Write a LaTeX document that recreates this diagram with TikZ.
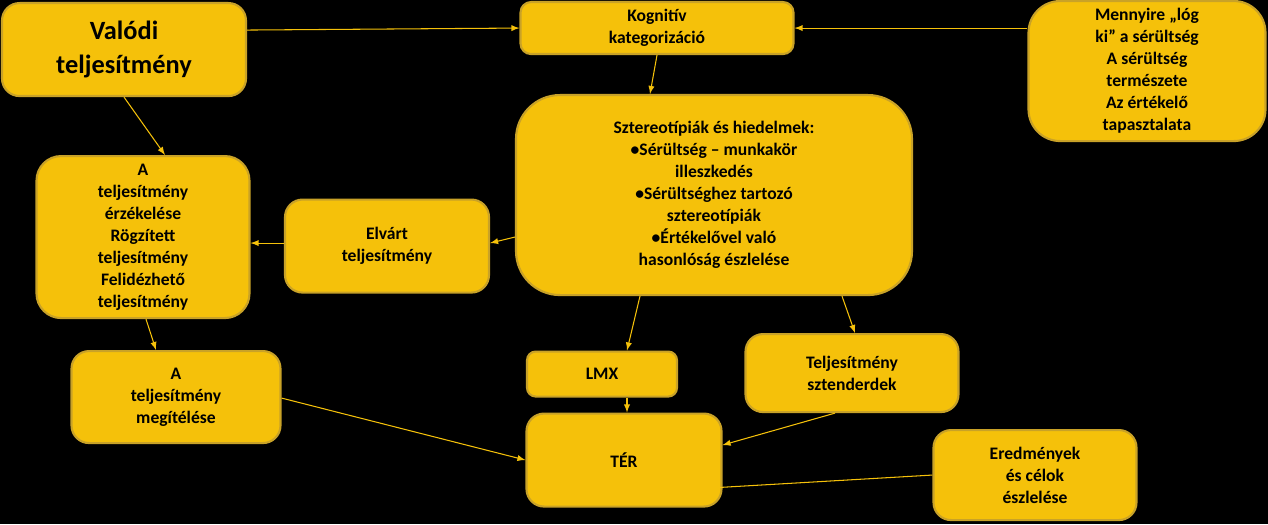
\documentclass[tikz,border=0pt]{standalone}
\usepackage{fontspec}
\setmainfont{Carlito}
\definecolor{boxfill}{HTML}{F5C10A}
\definecolor{boxline}{HTML}{C9A227}
\tikzset{
  box/.style={draw=boxline, line width=1.2pt, fill=boxfill, rounded corners=10pt,
    align=center, font=\bfseries\fontsize{10}{12.5}\selectfont, inner sep=2pt},
  link/.style={draw=boxfill, line width=0.6pt, -latex}
}
\begin{document}
\begin{tikzpicture}[x=0.02cm, y=-0.02cm]
  \fill[black] (0,0) rectangle (1268,524);
  \node[box, minimum width=244*0.02cm, minimum height=93*0.02cm, font=\bfseries\fontsize{15}{19}\selectfont] (valodi) at (124,49.5) {Valódi\\teljesítmény};
  \node[box, minimum width=273*0.02cm, minimum height=52*0.02cm, rounded corners=6pt] (kogn) at (657,28) {Kognitív\\kategorizáció};
  \node[box, minimum width=237*0.02cm, minimum height=140*0.02cm, rounded corners=18pt] (menny) at (1147,71) {Mennyire „lóg\\ki” a sérültség\\A sérültség\\természete\\Az értékelő\\tapasztalata};
  \node[box, minimum width=396*0.02cm, minimum height=200*0.02cm, rounded corners=25pt] (sztereo) at (714,195) {Sztereotípiák és hiedelmek:\\•Sérültség – munkakör\\illeszkedés\\•Sérültséghez tartozó\\sztereotípiák\\•Értékelővel való\\hasonlóság észlelése};
  \node[box, minimum width=213*0.02cm, minimum height=162*0.02cm, rounded corners=14pt] (erzek) at (143,237) {A\\teljesítmény\\érzékelése\\Rögzített\\teljesítmény\\Felidézhető\\teljesítmény};
  \node[box, minimum width=204*0.02cm, minimum height=93*0.02cm] (elvart) at (387,246) {Elvárt\\teljesítmény};
  \node[box, minimum width=209*0.02cm, minimum height=92*0.02cm] (megit) at (176,397) {A\\teljesítmény\\megítélése};
  \node[box, minimum width=150*0.02cm, minimum height=45*0.02cm, rounded corners=5pt] (lmx) at (602,374) {LMX};
  \node[box, minimum width=213*0.02cm, minimum height=78*0.02cm] (sztend) at (852,373) {Teljesítmény\\sztenderdek};
  \node[box, minimum width=195*0.02cm, minimum height=93*0.02cm] (ter) at (624,460) {TÉR};
  \node[box, minimum width=203*0.02cm, minimum height=90*0.02cm] (ered) at (1035,475) {Eredmények\\és célok\\észlelése};
  \coordinate (terin) at (692,489);
  % connectors
  \draw[link] (valodi.east |- 0,30) -- (kogn.west);
  \draw[link] (menny.west |- 0,28) -- (kogn.east);
  \draw[link] (kogn.south) -- (sztereo.north -| 650,0);
  \draw[link] (valodi.south) -- (erzek.north -| 165,0);
  \draw[link] (sztereo.west |- 0,237) -- (elvart.east |- 0,243);
  \draw[link] (elvart.west |- 0,243) -- (erzek.east |- 0,243);
  \draw[link] (erzek.south -| 146,0) -- (megit.north -| 156,0);
  \draw[link] (sztereo.south -| 640,0) -- (lmx.north -| 627,0);
  \draw[link] (sztereo.south -| 842,0) -- (sztend.north -| 855,0);
  \draw[link] (lmx.south -| 627,0) -- (ter.north -| 627,0);
  \draw[link] (megit.east |- 0,398) -- (ter.west);
  \draw[link] (sztend.south -| 835,0) -- (ter.east |- 0,445);
  \draw[link] (ered.west) -- (terin);
\end{tikzpicture}
\end{document}
